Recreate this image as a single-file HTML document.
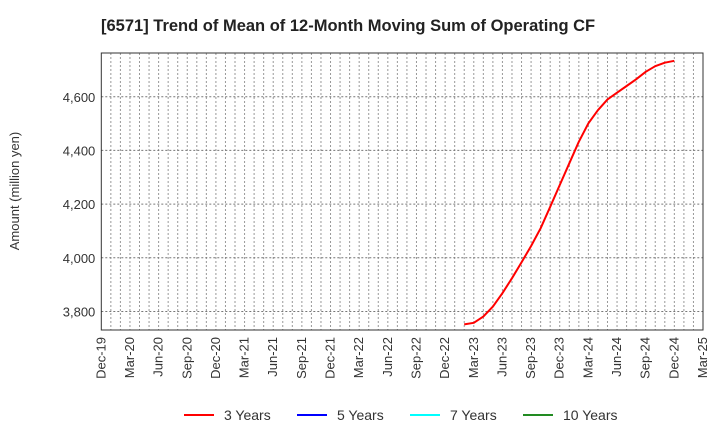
<!DOCTYPE html>
<html><head><meta charset="utf-8"><style>
body{margin:0;background:#fff;font-family:"Liberation Sans",sans-serif;}
svg text{font-family:"Liberation Sans",sans-serif;}
</style></head><body>
<svg id="chart" width="720" height="440" xmlns="http://www.w3.org/2000/svg">
<text x="101" y="31" font-size="16.5" font-weight="bold" fill="#222">[6571]  Trend of Mean of 12-Month Moving Sum of Operating CF</text>
<text transform="translate(19,191) rotate(-90)" text-anchor="middle" font-size="13" fill="#333">Amount (million yen)</text>
<g id="grid"></g><g id="axes"></g><g id="series"></g>
<g>
<g><line x1="184" y1="415" x2="214" y2="415" stroke="#f00" stroke-width="2"/><text x="224" y="420" font-size="14" fill="#333">3 Years</text></g>
<g><line x1="297" y1="415" x2="327" y2="415" stroke="#00f" stroke-width="2"/><text x="337" y="420" font-size="14" fill="#333">5 Years</text></g>
<g><line x1="410" y1="415" x2="440" y2="415" stroke="#0ff" stroke-width="2"/><text x="450" y="420" font-size="14" fill="#333">7 Years</text></g>
<g><line x1="523" y1="415" x2="553" y2="415" stroke="#228b22" stroke-width="2"/><text x="563" y="420" font-size="14" fill="#333">10 Years</text></g>
</g>
</svg>
<script>
const xTickLabels=["Dec-19","Mar-20","Jun-20","Sep-20","Dec-20","Mar-21","Jun-21","Sep-21","Dec-21","Mar-22","Jun-22","Sep-22","Dec-22","Mar-23","Jun-23","Sep-23","Dec-23","Mar-24","Jun-24","Sep-24","Dec-24","Mar-25"];
const yTicks=[3800,4000,4200,4400,4600];
const startMonth=38; // months after Dec-19 (Feb-23)
const series3y=[3752,3758,3781,3818,3868,3924,3983,4044,4110,4190,4271,4352,4432,4501,4550,4590,4615,4640,4665,4693,4714,4727,4734];
const L=101.3,R=703,T=53,B=330,yMin=3731,yMax=4763,nMonths=63;
const ns="http://www.w3.org/2000/svg";
function xS(m){return L+(R-L)*m/nMonths;}
function yS(v){return B-(v-yMin)/(yMax-yMin)*(B-T);}
function mk(t,a,p){const e=document.createElementNS(ns,t);for(const k in a)e.setAttribute(k,a[k]);p.appendChild(e);return e;}
const grid=document.getElementById('grid'),axes=document.getElementById('axes'),ser=document.getElementById('series');
for(let m=1;m<nMonths;m++){const g=mk('line',{x1:xS(m),x2:xS(m),y1:T,y2:B,stroke:'#999','stroke-dasharray':'2,2','stroke-width':1},grid);

}
yTicks.forEach(v=>{const g=mk('line',{x1:L,x2:R,y1:yS(v),y2:yS(v),stroke:'#777','stroke-dasharray':'2,2','stroke-width':1},grid);


const t=mk('text',{x:L-6,y:yS(v)+5,'text-anchor':'end','font-size':13,fill:'#333'},axes);
t.textContent=v.toLocaleString('en-US');

});
const fr=mk('rect',{x:L,y:T,width:R-L,height:B-T,fill:'none',stroke:'#333','stroke-width':1},axes);


xTickLabels.forEach((s,i)=>{const x=xS(i*3);const t=mk('text',{transform:`translate(${x+4},${B+7}) rotate(-90)`,'text-anchor':'end','font-size':13,fill:'#333'},axes);
t.textContent=s;

});
const pts=series3y.map((v,i)=>xS(startMonth+i).toFixed(1)+','+yS(v).toFixed(1)).join(' ');
const pl=mk('polyline',{points:pts,fill:'none',stroke:'#f00','stroke-width':2,'stroke-linejoin':'round'},ser);


</script>
</body></html>
